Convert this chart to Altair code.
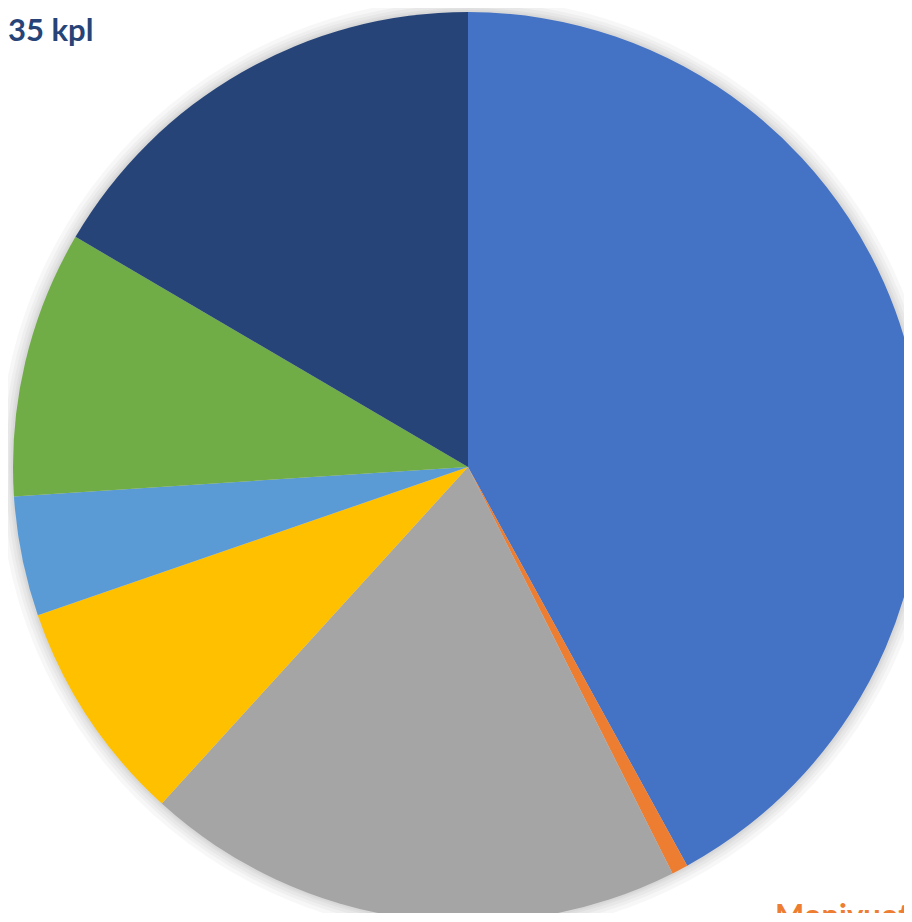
import altair as alt
import pandas as pd

# Slice shares in percent (clockwise from 12 o'clock)
slices = ["s1", "s2", "s3", "s4", "s5", "s6", "s7"]
shares = [42.0, 0.58, 19.17, 7.97, 4.25, 9.47, 16.56]
colors = ["#4472C4", "#ED7D31", "#A5A5A5", "#FFC000", "#5B9BD5", "#70AD47", "#264478"]

label_top = ["35 kpl"]
label_bottom = ["Monivuotiset"]

W, H = 896, 905
CX, CY = 460, 459
R = 455

df = pd.DataFrame({"slice": slices, "share": shares, "order": list(range(len(slices)))})
one = pd.DataFrame({"k": [0]})

shadow_layers = []
for extra in [14, 10, 7, 4, 2]:
    shadow_layers.append(
        alt.Chart(one).mark_arc(
            color="#000000", opacity=0.03, theta=0, theta2=6.2832, radius=R + extra
        ).encode(x=alt.value(CX), y=alt.value(CY))
    )

pie = alt.Chart(df).mark_arc(radius=R).encode(
    theta=alt.Theta("share:Q", stack=True),
    order=alt.Order("order:Q", sort="ascending"),
    color=alt.Color("slice:N", scale=alt.Scale(domain=slices, range=colors), legend=None),
    x=alt.value(CX),
    y=alt.value(CY),
)

t1 = alt.Chart(pd.DataFrame({"t": label_top})).mark_text(
    align="left", baseline="alphabetic", font="Lato", fontSize=31,
    fontWeight="bold", color="#264478"
).encode(text="t:N", x=alt.value(0), y=alt.value(33))

t2 = alt.Chart(pd.DataFrame({"t": label_bottom})).mark_text(
    align="left", baseline="alphabetic", font="Lato", fontSize=31,
    fontWeight="bold", color="#ED7D31"
).encode(text="t:N", x=alt.value(767), y=alt.value(918))

chart = alt.layer(*shadow_layers, pie, t1, t2).properties(
    width=W, height=H, padding=0, autosize=alt.AutoSizeParams(type="none"),
    background="white"
).configure_view(stroke=None)

chart.save("out.html", embed_options={"renderer": "svg", "actions": False})
